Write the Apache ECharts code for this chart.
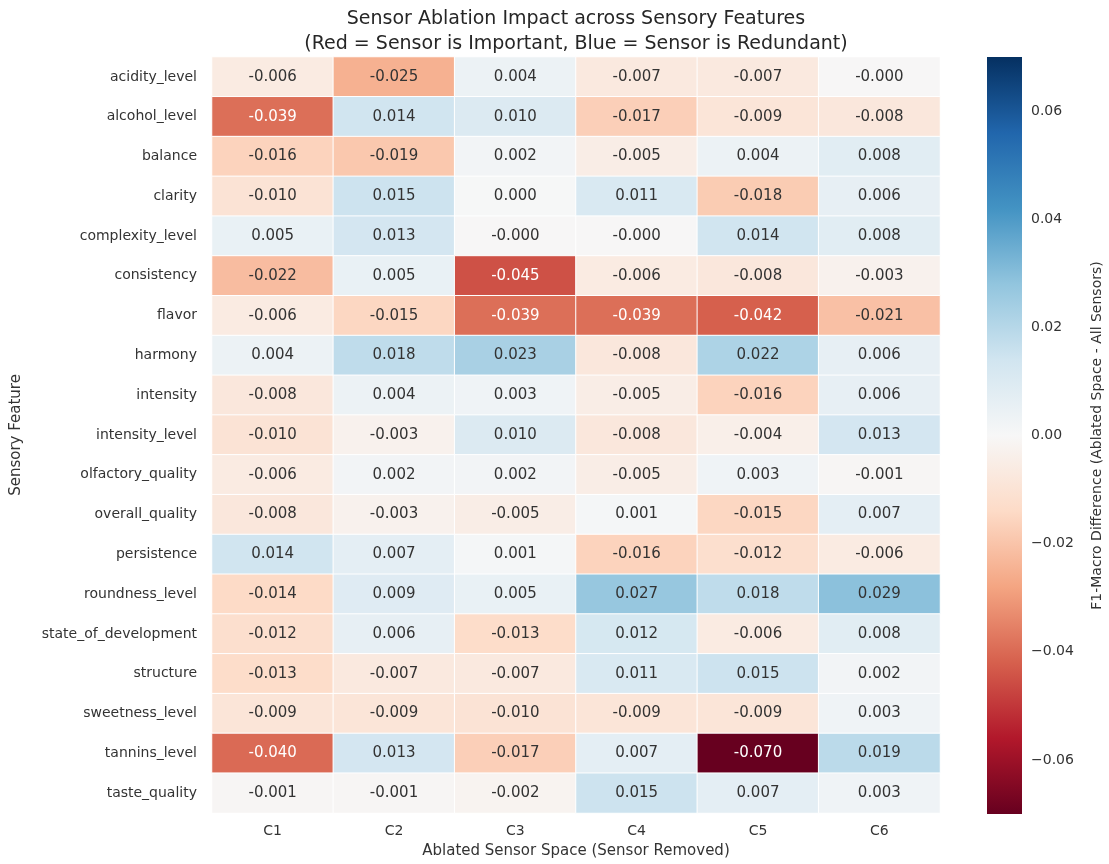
<!DOCTYPE html>
<html>
<head>
<meta charset="utf-8">
<title>Sensor Ablation Impact across Sensory Features</title>
<script src="https://cdn.jsdelivr.net/npm/echarts@6/dist/echarts.min.js"></script>
<style>
  html, body { margin: 0; padding: 0; background: #ffffff; }
  #chart { width: 1109px; height: 864px; }
</style>
</head>
<body>
<div id="chart"></div>
<script>
// Sensory features (rows, top to bottom)
const features = [
  'acidity_level', 'alcohol_level', 'balance', 'clarity', 'complexity_level',
  'consistency', 'flavor', 'harmony', 'intensity', 'intensity_level',
  'olfactory_quality', 'overall_quality', 'persistence', 'roundness_level',
  'state_of_development', 'structure', 'sweetness_level', 'tannins_level', 'taste_quality'
];

// Ablated sensor spaces (columns)
const sensors = ['C1', 'C2', 'C3', 'C4', 'C5', 'C6'];

// F1-macro difference per feature when each sensor space is removed
const C1 = [-0.006, -0.039, -0.016, -0.010, 0.005, -0.022, -0.006, 0.004, -0.008, -0.010, -0.006, -0.008, 0.014, -0.014, -0.012, -0.013, -0.009, -0.040, -0.001];
const C2 = [-0.025, 0.014, -0.019, 0.015, 0.013, 0.005, -0.015, 0.018, 0.004, -0.003, 0.002, -0.003, 0.007, 0.009, 0.006, -0.007, -0.009, 0.013, -0.001];
const C3 = [0.004, 0.010, 0.002, 0.0002, -0.0003, -0.045, -0.039, 0.023, 0.003, 0.010, 0.002, -0.005, 0.001, 0.005, -0.013, -0.007, -0.010, -0.017, -0.002];
const C4 = [-0.007, -0.017, -0.005, 0.011, -0.0003, -0.006, -0.039, -0.008, -0.005, -0.008, -0.005, 0.001, -0.016, 0.027, 0.012, 0.011, -0.009, 0.007, 0.015];
const C5 = [-0.007, -0.009, 0.004, -0.018, 0.014, -0.008, -0.042, 0.022, -0.016, -0.004, 0.003, -0.015, -0.012, 0.018, -0.006, 0.015, -0.009, -0.070, 0.007];
const C6 = [-0.0003, -0.008, 0.008, 0.006, 0.008, -0.003, -0.021, 0.006, 0.006, 0.013, -0.001, 0.007, -0.006, 0.029, 0.008, 0.002, 0.003, 0.019, 0.003];

// Colour bar tick values
const colorbarTicks = [-0.06, -0.04, -0.02, 0.00, 0.02, 0.04, 0.06];
const vMin = -0.07;
const vMax = 0.07;

// Diverging red-white-blue palette (low -> high)
const rdbu = ['#67001f', '#b2182b', '#d6604d', '#f4a582', '#fddbc7', '#f7f7f7',
              '#d1e5f0', '#92c5de', '#4393c3', '#2166ac', '#053061'];

const columns = [C1, C2, C3, C4, C5, C6];
const FONT = 'DejaVu Sans';
const TEXT = '#333333';

// Plot geometry
const plotLeft = 212, plotRight = 940, plotTop = 57, plotBottom = 814;
const cbLeft = 987, cbWidth = 35;

const cells = [];
columns.forEach((col, xi) => {
  col.forEach((v, yi) => {
    const dark = v <= -0.032 || v >= 0.045;
    cells.push({
      value: [xi, yi, v],
      label: { color: dark ? '#ffffff' : TEXT }
    });
  });
});

const fmtTick = v => {
  const r = Math.round(v * 100) / 100;
  return (r < 0 ? '\u2212' : '') + Math.abs(r).toFixed(2);
};

const chart = echarts.init(document.getElementById('chart'), null, { renderer: 'canvas' });

chart.setOption({
  backgroundColor: '#ffffff',
  animation: false,
  title: {
    text: 'Sensor Ablation Impact across Sensory Features\n(Red = Sensor is Important, Blue = Sensor is Redundant)',
    left: (plotLeft + plotRight) / 2 - 5,
    top: 2,
    textAlign: 'center',
    textStyle: {
      fontFamily: FONT,
      fontSize: 19,
      fontWeight: 'normal',
      lineHeight: 25,
      color: '#262626'
    }
  },
  grid: [
    {
      left: plotLeft,
      top: plotTop,
      width: plotRight - plotLeft,
      height: plotBottom - plotTop
    },
    {
      left: cbLeft,
      top: plotTop,
      width: cbWidth,
      height: plotBottom - plotTop
    }
  ],
  xAxis: [
    {
      type: 'category',
      gridIndex: 0,
      data: sensors,
      axisLine: { show: false },
      axisTick: { show: false },
      splitLine: { show: false },
      axisLabel: { fontFamily: FONT, fontSize: 14, color: TEXT, margin: 11 },
      name: 'Ablated Sensor Space (Sensor Removed)',
      nameLocation: 'middle',
      nameGap: 31,
      nameTextStyle: { fontFamily: FONT, fontSize: 15, color: TEXT }
    },
    {
      type: 'value',
      gridIndex: 1,
      show: false,
      min: 0,
      max: 1
    }
  ],
  yAxis: [
    {
      type: 'category',
      gridIndex: 0,
      data: features,
      inverse: true,
      axisLine: { show: false },
      axisTick: { show: false },
      splitLine: { show: false },
      axisLabel: { fontFamily: FONT, fontSize: 14, color: TEXT, margin: 15 },
      name: 'Sensory Feature',
      nameLocation: 'middle',
      nameRotate: 90,
      nameGap: 188,
      nameTextStyle: { fontFamily: FONT, fontSize: 15, color: TEXT }
    },
    {
      type: 'value',
      gridIndex: 1,
      position: 'right',
      min: vMin,
      max: vMax,
      axisLine: { show: false },
      splitLine: { show: false },
      axisTick: {
        show: true,
        length: 5,
        customValues: colorbarTicks,
        lineStyle: { color: TEXT, width: 1 }
      },
      axisLabel: {
        show: true,
        customValues: colorbarTicks,
        formatter: fmtTick,
        fontFamily: FONT,
        fontSize: 14,
        color: TEXT,
        margin: 9
      },
      name: 'F1-Macro Difference (Ablated Space - All Sensors)',
      nameLocation: 'middle',
      nameRotate: 90,
      nameGap: 68,
      nameTextStyle: { fontFamily: FONT, fontSize: 14, color: TEXT }
    }
  ],
  visualMap: {
    show: false,
    type: 'continuous',
    seriesIndex: 0,
    dimension: 2,
    min: vMin,
    max: vMax,
    inRange: { color: rdbu }
  },
  graphic: [
    {
      type: 'rect',
      shape: { x: cbLeft, y: plotTop, width: cbWidth, height: plotBottom - plotTop },
      style: {
        fill: new echarts.graphic.LinearGradient(0, 0, 0, 1,
          rdbu.slice().reverse().map((c, i, a) => ({ offset: i / (a.length - 1), color: c })))
      },
      z: 1
    }
  ],
  series: [
    {
      type: 'heatmap',
      xAxisIndex: 0,
      yAxisIndex: 0,
      data: cells,
      itemStyle: { borderColor: '#ffffff', borderWidth: 1 },
      label: {
        show: true,
        fontFamily: FONT,
        fontSize: 15,
        formatter: p => p.value[2].toFixed(3)
      },
      emphasis: { disabled: true }
    }
  ]
});
</script>
</body>
</html>
